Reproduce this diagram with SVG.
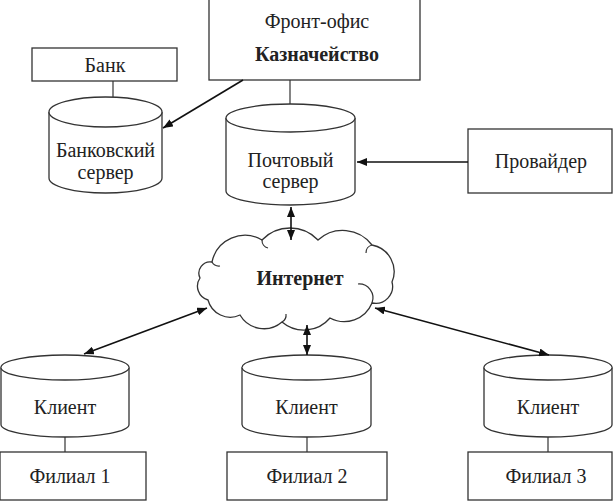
<svg xmlns="http://www.w3.org/2000/svg" width="614" height="501" viewBox="0 0 614 501">
<defs>
<marker id="ah" viewBox="0 0 10 10" refX="10" refY="5" markerWidth="10" markerHeight="8" markerUnits="userSpaceOnUse" orient="auto-start-reverse" preserveAspectRatio="none">
<path d="M0,0 L10,5 L0,10 Z" fill="#111"/>
</marker>
<style>
.box{fill:#fff;stroke:#333;stroke-width:1.3}
.cyl{fill:#fff;stroke:#333;stroke-width:1.3}
.ln{stroke:#333;stroke-width:1.2;fill:none}
.ar{stroke:#111;stroke-width:1.6;fill:none}
.t{font-family:"Liberation Serif","DejaVu Serif","Noto Serif",serif;font-size:20px;fill:#222;text-anchor:middle}
.b{font-weight:bold}
</style>
</defs>
<rect width="614" height="501" fill="#fff"/>

<g id="bank">
<rect class="box" x="32" y="48" width="145" height="33"/>
<text class="t" x="105" y="72">Банк</text>
</g>

<g id="bank-server">
<path class="cyl" d="M49,112 L49,178 A56.5,15 0 0 0 162,178 L162,112 A56.5,15 0 0 0 49,112 Z"/>
<path class="cyl" d="M49,112 A56.5,15 0 0 0 162,112"/>
<text class="t" x="105.5" y="157">Банковский</text>
<text class="t" x="105.5" y="179">сервер</text>
</g>

<g id="front-office">
<rect class="box" x="209" y="-1" width="211" height="81"/>
<text class="t" x="317" y="28">Фронт-офис</text>
<text class="t b" x="317" y="61">Казначейство</text>
</g>

<g id="mail-server">
<path class="cyl" d="M226,118 L226,191 A64.5,14 0 0 0 355,191 L355,118 A64.5,14 0 0 0 226,118 Z"/>
<path class="cyl" d="M226,118 A64.5,14 0 0 0 355,118"/>
<text class="t" x="290.5" y="167">Почтовый</text>
<text class="t" x="290.5" y="188">сервер</text>
</g>

<g id="provider">
<rect class="box" x="468" y="129" width="144" height="64"/>
<text class="t" x="541" y="168">Провайдер</text>
</g>

<g id="internet">
<path class="cyl" d="M212,262 A33.6,33.6 0 0 1 262,240 A38.7,38.7 0 0 1 318,240 A36.6,36.6 0 0 1 372,245 A27,27 0 0 1 392,282 A17,17 0 0 1 372,303 A30,30 0 0 1 330,318 A34,34 0 0 1 282,322 A27.7,27.7 0 0 1 240,315 A23,23 0 0 1 208,300 A14.4,14.4 0 0 1 200,278 A11.3,11.3 0 0 1 212,262 Z"/>
<path class="ln" d="M262,240 A8,8 0 0 0 268,248"/>
<path class="ln" d="M372,245 A8,8 0 0 0 366,253"/>
<path class="ln" d="M372,303 A14,14 0 0 0 358,284"/>
<path class="ln" d="M282,322 A8,8 0 0 0 286,314"/>
<path class="ln" d="M212,262 A8,8 0 0 0 220,266"/>
<text class="t b" x="300" y="285">Интернет</text>
</g>

<g id="client1">
<path class="cyl" d="M1,367.5 L1,424.5 A64,12.5 0 0 0 129,424.5 L129,367.5 A64,12.5 0 0 0 1,367.5 Z"/>
<path class="cyl" d="M1,367.5 A64,12.5 0 0 0 129,367.5"/>
<text class="t" x="65" y="414">Клиент</text>
</g>

<g id="client2">
<path class="cyl" d="M242,367.5 L242,424.5 A64.5,12.5 0 0 0 371,424.5 L371,367.5 A64.5,12.5 0 0 0 242,367.5 Z"/>
<path class="cyl" d="M242,367.5 A64.5,12.5 0 0 0 371,367.5"/>
<text class="t" x="306.5" y="414">Клиент</text>
</g>

<g id="client3">
<path class="cyl" d="M484,367.5 L484,424.5 A64,12.5 0 0 0 612,424.5 L612,367.5 A64,12.5 0 0 0 484,367.5 Z"/>
<path class="cyl" d="M484,367.5 A64,12.5 0 0 0 612,367.5"/>
<text class="t" x="548" y="414">Клиент</text>
</g>

<g id="branch1">
<rect class="box" x="0" y="452" width="146" height="48"/>
<text class="t" x="70" y="483">Филиал 1</text>
</g>

<g id="branch2">
<rect class="box" x="227" y="452" width="160" height="48"/>
<text class="t" x="307" y="483">Филиал 2</text>
</g>

<g id="branch3">
<rect class="box" x="468" y="452" width="144" height="48"/>
<text class="t" x="546" y="483">Филиал 3</text>
</g>

<g id="connectors">
<line class="ln" x1="113" y1="81" x2="113" y2="97"/>
<line class="ln" x1="290" y1="80" x2="290" y2="104"/>
<line class="ln" x1="65" y1="437" x2="65" y2="452"/>
<line class="ln" x1="307" y1="437" x2="307" y2="452"/>
<line class="ln" x1="548" y1="437" x2="548" y2="452"/>
<line class="ar" x1="243" y1="80" x2="163" y2="128" marker-end="url(#ah)"/>
<line class="ar" x1="468" y1="162" x2="357" y2="162" marker-end="url(#ah)"/>
<line class="ar" x1="291" y1="207" x2="291" y2="240" marker-start="url(#ah)" marker-end="url(#ah)"/>
<line class="ar" x1="207" y1="308" x2="84" y2="354" marker-start="url(#ah)" marker-end="url(#ah)"/>
<line class="ar" x1="375" y1="308" x2="549" y2="355" marker-start="url(#ah)" marker-end="url(#ah)"/>
<line class="ar" x1="307" y1="325" x2="307" y2="355" marker-start="url(#ah)" marker-end="url(#ah)"/>
</g>
</svg>
